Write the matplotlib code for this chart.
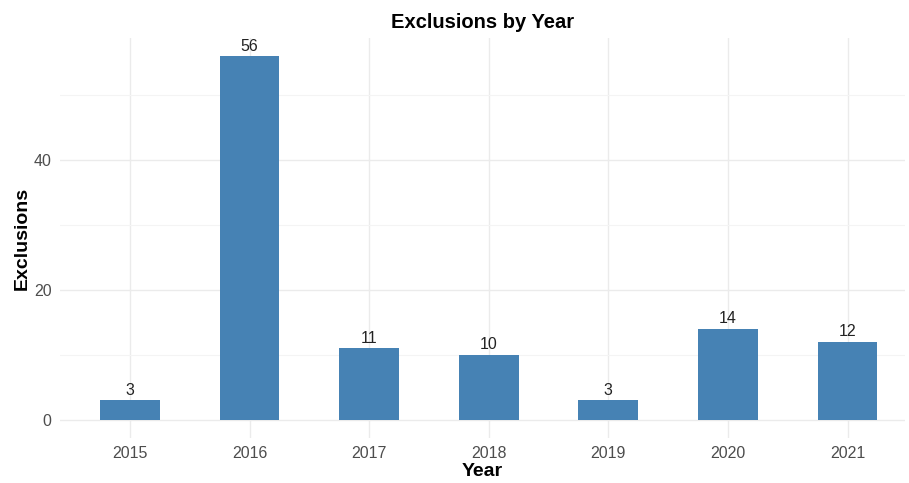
import matplotlib
matplotlib.use("Agg")
import matplotlib.pyplot as plt
from matplotlib.ticker import MultipleLocator

plt.rcParams["font.family"] = ["Liberation Sans", "DejaVu Sans"]

years = ["2015", "2016", "2017", "2018", "2019", "2020", "2021"]
exclusions = [3, 56, 11, 10, 3, 14, 12]

fig = plt.figure(figsize=(9.09, 4.83), dpi=100)
ax = fig.add_axes([60 / 909, 45 / 483, 845 / 909, 400 / 483])

x = range(len(years))
ax.bar(x, exclusions, width=0.5, color="#4682B4", zorder=2)
for xi, v in zip(x, exclusions):
    ax.text(xi, v + 0.4, str(v), ha="center", va="bottom", fontsize=11.5, color="#222222")

ax.set_xticks(list(x))
ax.set_xticklabels(years)
ax.set_xlim(-0.585, 6.48)
ax.set_ylim(-2.8, 58.8)
ax.yaxis.set_major_locator(MultipleLocator(20))
ax.yaxis.set_minor_locator(MultipleLocator(10))

ax.grid(True, which="major", color="#ebebeb", lw=1.0, zorder=0)
ax.grid(True, which="minor", axis="y", color="#f4f4f4", lw=0.8, zorder=0)
for s in ax.spines.values():
    s.set_visible(False)
ax.tick_params(which="both", length=0, labelsize=11.5, labelcolor="#4d4d4d", pad=6)

ax.set_title("Exclusions by Year", fontsize=14.5, fontweight="bold", pad=7)
ax.set_xlabel("Year", fontsize=14, fontweight="bold", labelpad=1)
ax.set_ylabel("Exclusions", fontsize=14, fontweight="bold", labelpad=2)

fig.savefig("out.png", dpi=100)
